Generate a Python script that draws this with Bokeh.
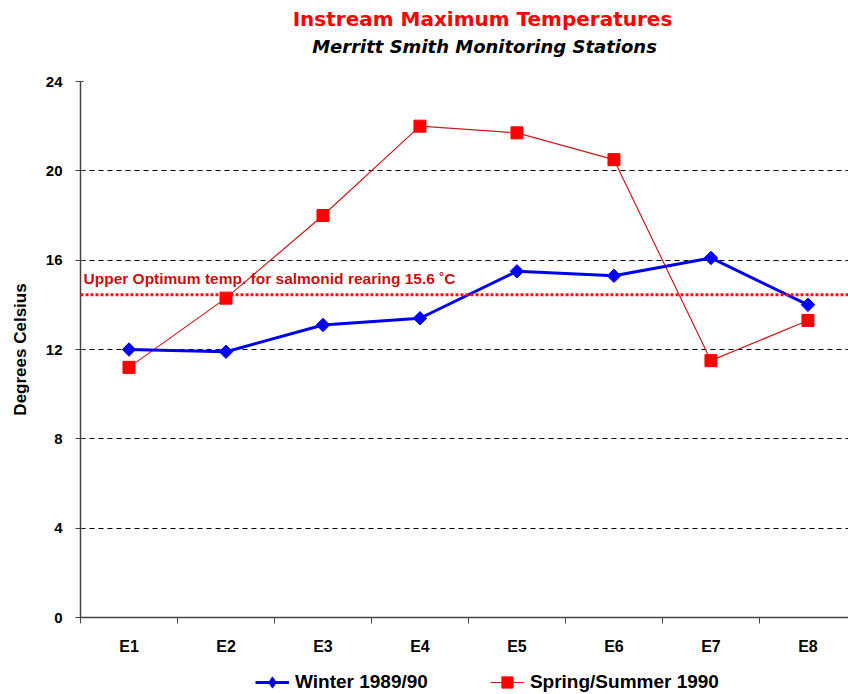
import math
from bokeh.plotting import figure
from bokeh.models import Range1d, FixedTicker, Span, Label, Legend, LegendItem
from bokeh.layouts import column
from bokeh.embed import file_html
from bokeh.resources import INLINE

# ---- data ----
stations = ["E1", "E2", "E3", "E4", "E5", "E6", "E7", "E8"]
winter = [12.0, 11.9, 13.1, 13.4, 15.5, 15.3, 16.1, 14.0]
spring = [11.2, 14.3, 18.0, 22.0, 21.7, 20.5, 11.5, 13.3]
y_ticks = [0, 4, 8, 12, 16, 20, 24]
threshold = 14.45
threshold_label = "Upper Optimum temp. for salmonid rearing 15.6 \u02daC"
title_text = "Instream Maximum Temperatures"
subtitle_text = "Merritt Smith Monitoring Stations"
winter_name = "Winter 1989/90"
spring_name = "Spring/Summer 1990"

W = 848
LEFT = 80
H_TITLE, H_MAIN, H_LEG = 61, 596, 37

xs = [i + 0.5 for i in range(len(stations))]

# styles
WIN_COLOR, WIN_LINE = "#0000FF", "#0000F0"
SPR_COLOR, SPR_LINE = "#FF0000", "#CC1A1A"
DIAMOND = dict(marker="square", angle=math.pi / 4, size=9.5,
               fill_color=WIN_COLOR, line_color=WIN_COLOR)
LEG_DIAMOND = dict(marker="diamond", size=15, fill_color=WIN_COLOR, line_color=WIN_COLOR)
SQUARE = dict(marker="square", size=12, fill_color=SPR_COLOR, line_color=SPR_COLOR)


def blank(height):
    # frame aligned with the main chart's frame; data units = page pixels
    f = figure(width=W, height=height, output_backend="svg", toolbar_location=None,
               x_range=Range1d(LEFT, W), y_range=Range1d(0, height),
               min_border_left=LEFT, min_border_right=0,
               min_border_top=0, min_border_bottom=0)
    f.axis.visible = False
    f.grid.visible = False
    f.outline_line_color = None
    f.background_fill_color = "white"
    f.border_fill_color = "white"
    return f


# ---- title strip ----
t = blank(H_TITLE)
t.add_layout(Label(x=482, y=H_TITLE - 18, text=title_text, text_font="DejaVu Sans",
                   text_font_style="bold", text_font_size="20px",
                   text_color="#FF0000", text_align="center", text_baseline="middle"))
t.add_layout(Label(x=484, y=H_TITLE - 46, text=subtitle_text, text_font="DejaVu Sans",
                   text_font_style="bold italic", text_font_size="18px",
                   text_color="black", text_align="center", text_baseline="middle"))

# ---- main chart ----
p = figure(width=W, height=H_MAIN, output_backend="svg", toolbar_location=None,
           x_range=Range1d(0, 7.918), y_range=Range1d(0, 24),
           min_border_left=LEFT, min_border_top=20, min_border_bottom=40,
           min_border_right=0)
p.outline_line_color = None
p.background_fill_color = "white"
p.border_fill_color = "white"

p.xgrid.grid_line_color = None
p.ygrid.ticker = FixedTicker(ticks=y_ticks)
p.ygrid.grid_line_color = "black"
p.ygrid.grid_line_dash = "5 4"
p.ygrid.grid_line_width = 1

p.xaxis.ticker = FixedTicker(ticks=xs, minor_ticks=list(range(len(stations) + 1)))
p.xaxis.major_label_overrides = {x: s for x, s in zip(xs, stations)}
p.xaxis.major_tick_line_color = None
p.xaxis.major_tick_out = 6
p.xaxis.minor_tick_out = 6
p.xaxis.minor_tick_in = 0
p.xaxis.minor_tick_line_color = "#444444"
p.xaxis.major_label_standoff = 14
p.xaxis.major_label_text_font = "Liberation Sans"
p.xaxis.major_label_text_font_style = "bold"
p.xaxis.major_label_text_font_size = "16px"
p.xaxis.major_label_text_color = "black"
p.xaxis.axis_line_color = "#444444"
p.xaxis.axis_line_width = 1.5

p.yaxis.ticker = FixedTicker(ticks=y_ticks, minor_ticks=[])
p.yaxis.major_tick_out = 5
p.yaxis.major_tick_in = 3
p.yaxis.major_tick_line_color = "#444444"
p.yaxis.major_label_standoff = 13
p.yaxis.major_label_text_font = "Liberation Sans"
p.yaxis.major_label_text_font_style = "bold"
p.yaxis.major_label_text_font_size = "15px"
p.yaxis.major_label_text_color = "black"
p.yaxis.axis_line_color = "#444444"
p.yaxis.axis_line_width = 1.5
p.yaxis.axis_label = "Degrees Celsius"
p.yaxis.axis_label_text_font = "Liberation Sans"
p.yaxis.axis_label_text_font_style = "bold"
p.yaxis.axis_label_text_font_size = "17px"
p.yaxis.axis_label_text_color = "black"
p.yaxis.axis_label_standoff = 13

p.add_layout(Span(location=threshold, dimension="width", line_color="#FF1010",
                  line_width=3, line_dash="3 2"))
p.add_layout(Label(x=0.031, y=threshold + 0.73, text=threshold_label,
                   text_font="Liberation Sans", text_font_style="bold",
                   text_font_size="15.5px", text_color="#CC1010",
                   text_align="left", text_baseline="middle"))

p.line(xs, spring, line_color=SPR_LINE, line_width=1.2)
p.scatter(xs, spring, **SQUARE)
p.line(xs, winter, line_color=WIN_LINE, line_width=3)
p.scatter(xs, winter, **DIAMOND)

# ---- legend strip (same series, out of this strip's view; used only as legend glyphs) ----
lg = blank(H_LEG)
lb_line = lg.line(xs, winter, line_color=WIN_LINE, line_width=3)
lb_pts = lg.scatter(xs, winter, **LEG_DIAMOND)
lr_line = lg.line(xs, spring, line_color=SPR_LINE, line_width=1.2)
lr_pts = lg.scatter(xs, spring, **SQUARE)
legend = Legend(items=[LegendItem(label=winter_name, renderers=[lb_line, lb_pts]),
                       LegendItem(label=spring_name, renderers=[lr_line, lr_pts])],
                orientation="horizontal", location=(255 - LEFT, -2),
                label_text_font="Liberation Sans", label_text_font_style="bold",
                label_text_font_size="19px", label_text_color="black",
                glyph_width=34, glyph_height=28, label_height=28,
                label_standoff=6, spacing=62,
                padding=0, margin=0, border_line_color=None,
                background_fill_alpha=0)
lg.add_layout(legend)

open("out.html", "w").write(file_html(column(t, p, lg, spacing=0), INLINE))
